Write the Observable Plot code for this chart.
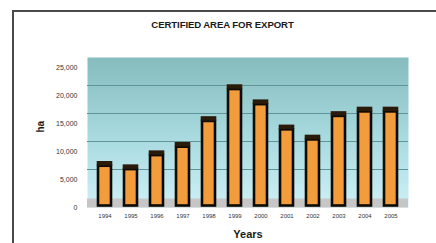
<!DOCTYPE html>
<html>
<head>
<meta charset="utf-8">
<script src="https://cdn.jsdelivr.net/npm/d3@7"></script>
<script src="https://cdn.jsdelivr.net/npm/@observablehq/plot@0.6"></script>
<style>
  html, body { margin: 0; padding: 0; background: #fff; }
  #wrap { position: relative; width: 436px; height: 243px; overflow: hidden; font-family: "Liberation Sans", Arial, sans-serif; }
  #border { position: absolute; left: 12px; top: 10px; width: 440px; height: 250px; border-top: 2px solid #4a4a4a; border-left: 2px solid #4a4a4a; }
  #title { position: absolute; left: 0; top: 19px; width: 445px; text-align: center; font-weight: bold; font-size: 9.6px; color: #1a1a1a; letter-spacing: -0.1px; }
  #chart { position: absolute; left: 0; top: 0; }
</style>
</head>
<body>
<div id="wrap">
  <div id="border"></div>
  <div id="chart"></div>
  <div id="title">CERTIFIED AREA FOR EXPORT</div>
</div>
<script>
const years = ["1994","1995","1996","1997","1998","1999","2000","2001","2002","2003","2004","2005"];
const values = [7100, 6500, 9000, 10500, 15100, 20800, 18100, 13600, 11800, 16000, 16800, 16800];
const yTicks = [0, 5000, 10000, 15000, 20000, 25000];
const gridValues = [5000, 10000, 15000, 20000];

const data = years.map((y, i) => ({year: y, value: values[i]}));

const svg = Plot.plot({
  width: 436,
  height: 243,
  marginLeft: 87,
  marginRight: 28,
  marginTop: 57,
  marginBottom: 36,
  style: {fontFamily: "Liberation Sans, Arial, sans-serif", background: "transparent", color: "#333"},
  x: {domain: years, range: [87, 408], paddingInner: 0.5, paddingOuter: 0.25},
  y: {domain: [0, 25000], range: [207, 67]},
  marks: [
    Plot.frame({fill: "url(#wallGrad)", stroke: null}),
    Plot.ruleY(gridValues, {stroke: "#5f9597", strokeWidth: 1, dy: -10}),
    Plot.ruleY([0], {stroke: "#c6c6c6", strokeWidth: 9, dy: -4.5}),
    Plot.barY(data, {x: "year", y: "value", fill: "#f29c3b", stroke: "#0d0a06", strokeWidth: 2.6, dy: -1.5}),
    Plot.tickY(data, {x: "year", y: "value", stroke: "#2a1a0a", strokeWidth: 4.5, dy: -4.5, insetLeft: -1.3, insetRight: -1.3}),
    Plot.axisY(yTicks, {tickSize: 0, tickPadding: 10, fontSize: 7, tickFormat: d3.format(","), fill: "#333", label: null}),
    Plot.axisX(years, {tickSize: 0, tickPadding: 6, fontSize: 6, fill: "#333", label: null}),
    Plot.text(["Years"], {frameAnchor: "bottom", dy: 30, fontSize: 11, fontWeight: "bold", fill: "#1a1a1a"}),
    Plot.text(["ha"], {frameAnchor: "left", dx: -47, rotate: -90, fontSize: 10, fontWeight: "bold", fill: "#1a1a1a"})
  ]
});

const ns = "http://www.w3.org/2000/svg";
const defs = document.createElementNS(ns, "defs");
const grad = document.createElementNS(ns, "linearGradient");
grad.setAttribute("id", "wallGrad");
grad.setAttribute("x1", "0"); grad.setAttribute("y1", "0");
grad.setAttribute("x2", "0"); grad.setAttribute("y2", "1");
[["0%", "#86bcbe"], ["55%", "#a9dbe0"], ["100%", "#cdf0f6"]].forEach(([o, c]) => {
  const s = document.createElementNS(ns, "stop");
  s.setAttribute("offset", o); s.setAttribute("stop-color", c);
  grad.appendChild(s);
});
defs.appendChild(grad);
svg.insertBefore(defs, svg.firstChild);
document.getElementById("chart").appendChild(svg);
</script>
</body>
</html>
